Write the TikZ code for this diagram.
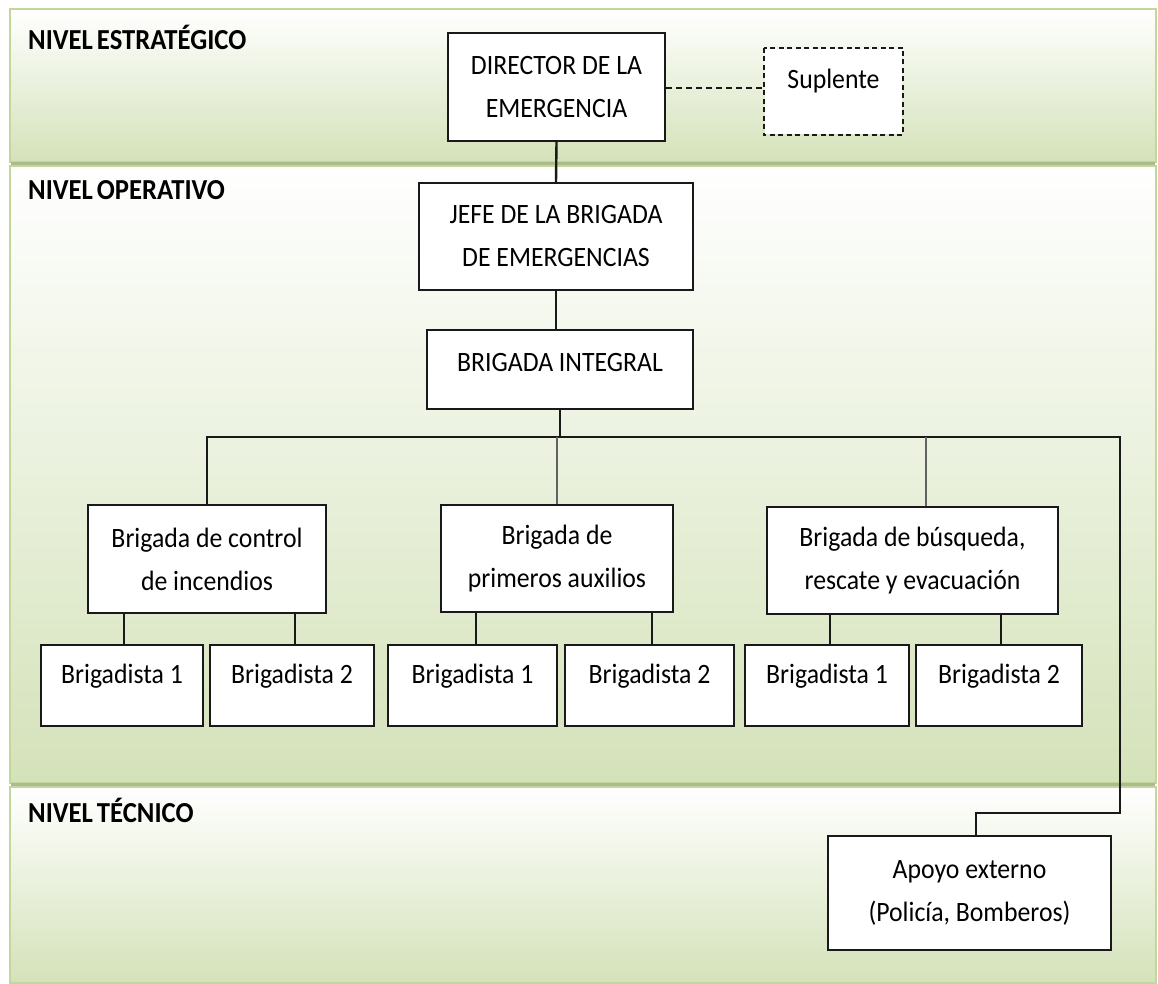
\documentclass[tikz,border=0pt]{standalone}
\usepackage{fontspec}
\setmainfont{Carlito}[FakeStretch=0.92]
\definecolor{bandgreen}{RGB}{212,226,185}
\definecolor{bandedge}{RGB}{195,214,155}
\definecolor{bandshadow}{RGB}{170,188,140}
\definecolor{boxline}{RGB}{25,25,25}
\tikzset{
  band/.style={draw=bandedge, line width=1.4pt, top color=white, bottom color=bandgreen},
  bandshade/.style={draw=bandshadow, line width=2.5pt},
  level/.style={anchor=base west, inner sep=0pt, font=\fontsize{29pt}{34pt}\selectfont\bfseries},
  box/.style={draw=boxline, fill=white, line width=2.4pt, inner sep=0pt, align=center,
    font=\fontsize{28pt}{43pt}\selectfont},
  bd/.style={box, text height=38pt, text depth=43pt},
  link/.style={draw=boxline, line width=2.4pt},
  greylink/.style={draw=black!62, line width=2.4pt},
  dashlink/.style={draw=boxline, line width=2pt, dash pattern=on 6pt off 4pt},
}
\begin{document}
\begin{tikzpicture}[x=1pt,y=-1pt]
\useasboundingbox (0,0) rectangle (1158,984);
\fill[white] (0,0) rectangle (1158,984);
% bands
\draw[band] (10,9) rectangle (1156,162);
\draw[bandshade] (11,163.5) -- (1155,163.5);
\draw[band] (10,166) rectangle (1156,783);
\draw[bandshade] (11,784.5) -- (1155,784.5);
\draw[band] (10,787) rectangle (1156,983);
\node[level] (lvl1) at (28,50) {NIVEL\kern4pt ESTRATÉGICO};
\node[level] (lvl2) at (28,200) {NIVEL\kern4pt OPERATIVO};
\node[level] (lvl3) at (28,822) {NIVEL\kern4pt TÉCNICO};
% boxes
\node[box, minimum width=217, minimum height=108] (dir) at (556.5,87) {DIRECTOR DE LA\\EMERGENCIA};
\node[box, draw=none, minimum width=137, text height=40pt, text depth=45pt] (sup) at (833.5,91.5) {Suplente};
\draw[boxline, line width=2pt, dash pattern=on 5pt off 3.5pt] (sup.north west) rectangle (sup.south east);
\node[box, minimum width=274, minimum height=107] (jefe) at (556,236.5) {JEFE DE LA BRIGADA\\DE EMERGENCIAS};
\node[box, minimum width=266, text height=41pt, text depth=38pt] (integ) at (560,369.5) {BRIGADA INTEGRAL};
\node[box, minimum width=238, minimum height=108] (bA) at (207,559) {Brigada de control\\de incendios};
\node[box, minimum width=232, minimum height=107] (bB) at (557,558.5) {Brigada de\\primeros auxilios};
\node[box, minimum width=291, minimum height=107] (bC) at (912.5,560.5) {Brigada de búsqueda,\\rescate y evacuación};
\node[bd, minimum width=162] (a1) at (122,685.5) {Brigadista 1};
\node[bd, minimum width=164] (a2) at (292,685.5) {Brigadista 2};
\node[bd, minimum width=169] (b1) at (472.5,685.5) {Brigadista 1};
\node[bd, minimum width=169] (b2) at (649.5,685.5) {Brigadista 2};
\node[bd, minimum width=164] (c1) at (827,685.5) {Brigadista 1};
\node[bd, minimum width=166] (c2) at (999,685.5) {Brigadista 2};
\node[box, minimum width=283, minimum height=114] (apoyo) at (969.5,893) {Apoyo externo\\(Policía, Bomberos)};
% connectors
\draw[dashlink] (dir.east |- 0,88) -- (sup.west |- 0,88);
\draw[link] (dir.south) -- (jefe.north);
\draw[link] (jefe.south) -- (jefe.south |- integ.north);
\coordinate (busL) at (207,437);
\coordinate (busR) at (1120,437);
\coordinate (dropC) at (926,437);
\coordinate (bendA) at (1120,813);
\coordinate (bendB) at (976,813);
\draw[link] (integ.south) -- (integ.south |- busL);
\draw[link] (busL |- bA.north) -- (busL) -- (busR) -- (bendA) -- (bendB) -- (bendB |- apoyo.north);
\draw[greylink] (bB.north) -- (bB.north |- busL);
\draw[greylink] (dropC) -- (dropC |- bC.north);
\draw[link] ([xshift=2pt]a1.north) -- ([xshift=2pt]a1.north |- bA.south);
\draw[link] ([xshift=3pt]a2.north) -- ([xshift=3pt]a2.north |- bA.south);
\draw[link] ([xshift=3.5pt]b1.north) -- ([xshift=3.5pt]b1.north |- bB.south);
\draw[link] ([xshift=2.5pt]b2.north) -- ([xshift=2.5pt]b2.north |- bB.south);
\draw[link] ([xshift=3pt]c1.north) -- ([xshift=3pt]c1.north |- bC.south);
\draw[link] ([xshift=2pt]c2.north) -- ([xshift=2pt]c2.north |- bC.south);
\end{tikzpicture}
\end{document}
